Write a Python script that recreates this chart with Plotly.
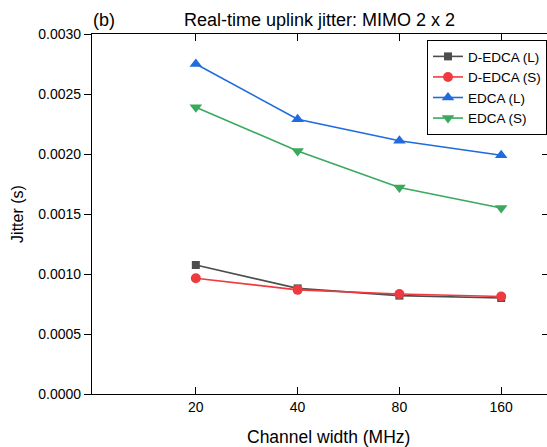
import plotly.graph_objects as go

# Channel widths (MHz) shown as evenly spaced categories
channel_widths = ["20", "40", "80", "160"]

# Real-time uplink jitter (s), MIMO 2 x 2
d_edca_l = [0.001075, 0.00088, 0.00082, 0.00080]
d_edca_s = [0.000965, 0.000868, 0.000833, 0.000812]
edca_l = [0.00275, 0.00229, 0.00211, 0.00199]
edca_s = [0.00239, 0.002025, 0.00172, 0.00155]

y_ticks = [0.0, 0.0005, 0.0010, 0.0015, 0.0020, 0.0025, 0.0030]

series = [
    ("D-EDCA (L)", d_edca_l, "#4d4d4d", "square", 8),
    ("D-EDCA (S)", d_edca_s, "#ef3a3f", "circle", 10),
    ("EDCA (L)", edca_l, "#1f6bdf", "triangle-up", 11),
    ("EDCA (S)", edca_s, "#3aa95e", "triangle-down", 11),
]

fig = go.Figure()
for name, vals, color, symbol, size in series:
    fig.add_trace(go.Scatter(
        x=channel_widths, y=vals, name=name, mode="lines+markers",
        line=dict(color=color, width=1.6),
        marker=dict(symbol=symbol, size=size, color=color),
    ))

# invisible trace on the right axis so its inside ticks get drawn
fig.add_trace(go.Scatter(x=channel_widths, y=d_edca_l, yaxis="y2",
                         mode="lines", line=dict(width=0),
                         showlegend=False, hoverinfo="skip", opacity=0))

font = "Arial, Liberation Sans, Helvetica, sans-serif"

fig.update_layout(
    width=547, height=447,
    margin=dict(l=92, r=0, t=34, b=53),
    paper_bgcolor="white", plot_bgcolor="white",
    font=dict(family=font, color="black", size=14),
    showlegend=True,
    legend=dict(
        x=1.0, xanchor="right", y=0.983, yanchor="top",
        bgcolor="white", bordercolor="black", borderwidth=1,
        font=dict(size=13.5, family=font), tracegroupgap=0,
        itemwidth=30,
    ),
    xaxis=dict(
        type="category", categoryorder="array", categoryarray=channel_widths,
        range=[-1.02, 3.45],
        showline=True, linecolor="black", linewidth=1.2, mirror="ticks",
        ticks="inside", ticklen=7, tickcolor="black", tickwidth=1,
        showgrid=False, zeroline=False,
        tickfont=dict(size=14),
    ),
    yaxis=dict(
        range=[0, 0.003], tickvals=y_ticks, tickformat=".4f",
        showline=True, linecolor="black", linewidth=1.2,
        ticks="outside", ticklen=7, tickcolor="black", tickwidth=1,
        showgrid=False, zeroline=False,
        tickfont=dict(size=14),
        title=dict(text="Jitter (s)", font=dict(size=16), standoff=10),
    ),
    yaxis2=dict(
        overlaying="y", side="right", range=[0, 0.003],
        tickvals=y_ticks[1:-1], showticklabels=False,
        ticks="inside", ticklen=5, tickcolor="black",
        showline=False, showgrid=False, zeroline=False,
    ),
    annotations=[
        dict(text="Real-time uplink jitter: MIMO 2 x 2", xref="paper", yref="paper",
             x=0.5, y=1.0, xanchor="center", yanchor="bottom", yshift=2,
             showarrow=False, font=dict(size=18)),
        dict(text="(b)", xref="paper", yref="paper", x=0.0, y=1.0,
             xanchor="left", yanchor="bottom", yshift=2, xshift=-1,
             showarrow=False, font=dict(size=18)),
        dict(text="Channel width (MHz)", xref="paper", yref="paper",
             x=0.519, y=0.0, xanchor="center", yanchor="middle", yshift=-43,
             showarrow=False, font=dict(size=17.5)),
    ],
)

fig.write_html("out.html")
